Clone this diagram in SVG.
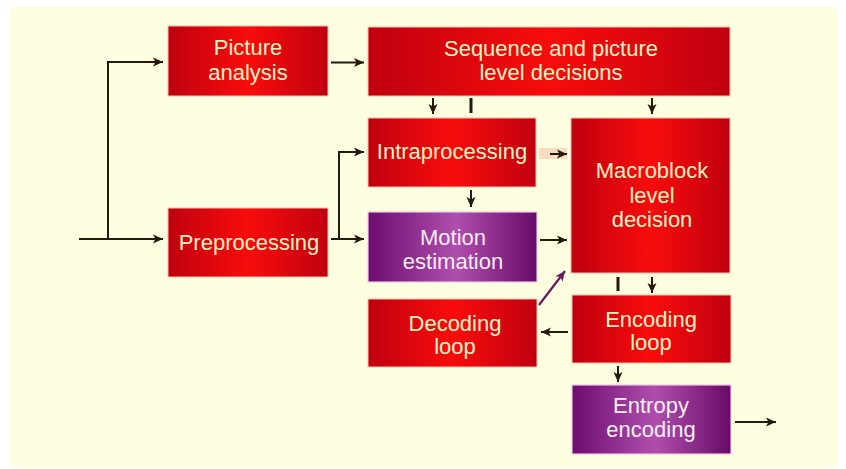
<svg xmlns="http://www.w3.org/2000/svg" width="846" height="469" viewBox="0 0 846 469">
  <defs>
    <linearGradient id="redFill" x1="0" y1="0" x2="1" y2="0">
      <stop offset="0" stop-color="#bf000f"/>
      <stop offset="0.5" stop-color="#f80c0c"/>
      <stop offset="1" stop-color="#c0000f"/>
    </linearGradient>
    <linearGradient id="purpleFill" x1="0" y1="0" x2="1" y2="0">
      <stop offset="0" stop-color="#6c0c6e"/>
      <stop offset="0.52" stop-color="#b04eae"/>
      <stop offset="1" stop-color="#680a68"/>
    </linearGradient>
    <marker id="head" markerUnits="userSpaceOnUse" markerWidth="12" markerHeight="12" viewBox="0 0 12 12" refX="11" refY="6" orient="auto">
      <path d="M1 1.5 L11 6 L1 10.5 L3.5 6 Z" fill="#24180f"/>
    </marker>
    <marker id="headPurple" markerUnits="userSpaceOnUse" markerWidth="12" markerHeight="12" viewBox="0 0 12 12" refX="11" refY="6" orient="auto">
      <path d="M1 1.5 L11 6 L1 10.5 L3.5 6 Z" fill="#6a1860"/>
    </marker>
  </defs>
  <style>
    .red rect { fill: url(#redFill); stroke: #f4c4b0; stroke-width: 1; }
    .purple rect { fill: url(#purpleFill); stroke: #ecc8e4; stroke-width: 1.2; }
    .lbl { font-family: "Liberation Sans", Arial, sans-serif; font-size: 22px; text-anchor: middle; stroke: none; }
    .red text { fill: #fdf2c4; }
    .purple text { fill: #faeef6; }
    .wire { fill: none; stroke: #24180f; stroke-width: 2; }
    .arrow { marker-end: url(#head); }
    .bar { fill: none; stroke: #24180f; stroke-width: 3; }
  </style>

  <!-- page -->
  <rect x="0" y="0" width="846" height="469" fill="#ffffff"/>
  <rect x="10" y="7" width="828" height="460" fill="#fdfddf"/>

  <!-- connectors -->
  <g id="connectors">
    <path class="wire arrow" d="M79 239 H163"/>
    <path class="wire arrow" d="M108 239 V62 H163"/>
    <path class="wire arrow" d="M331 62.5 H364"/>
    <path class="wire arrow" d="M433 98 V114"/>
    <path class="bar" d="M471 98 V113"/>
    <path class="wire arrow" d="M652 98 V114"/>
    <path class="wire arrow" d="M331 239 H364"/>
    <path class="wire arrow" d="M339 239 V152 H364"/>
    <path class="wire arrow" d="M471 190 V207"/>
    <rect x="539" y="148" width="28" height="11" fill="#f8dcc0"/>
    <path class="wire arrow" d="M550 154 H567"/>
    <path class="wire arrow" d="M540 240 H567"/>
    <path d="M539 305 L565 271" fill="none" stroke="#6a1860" stroke-width="2.2" marker-end="url(#headPurple)"/>
    <path class="bar" d="M618 277 V291"/>
    <path class="wire arrow" d="M652 277 V293"/>
    <path class="wire arrow" d="M568 332 H541"/>
    <path class="wire arrow" d="M618 366 V382"/>
    <path class="wire arrow" d="M735 422 H776"/>
  </g>

  <g id="picture-analysis" class="red">
    <rect x="168" y="26" width="160" height="70"/>
    <text class="lbl" x="248" y="55">Picture</text>
    <text class="lbl" x="248" y="80">analysis</text>
  </g>

  <g id="sequence-decisions" class="red">
    <rect x="368" y="27" width="362" height="69"/>
    <text class="lbl" x="551" y="56">Sequence and picture</text>
    <text class="lbl" x="551" y="80">level decisions</text>
  </g>

  <g id="intraprocessing" class="red">
    <rect x="368" y="118" width="168" height="69"/>
    <text class="lbl" x="452" y="159">Intraprocessing</text>
  </g>

  <g id="macroblock-decision" class="red">
    <rect x="571" y="118" width="159" height="155"/>
    <text class="lbl" x="652" y="178">Macroblock</text>
    <text class="lbl" x="652" y="203">level</text>
    <text class="lbl" x="652" y="227">decision</text>
  </g>

  <g id="preprocessing" class="red">
    <rect x="168" y="208" width="160" height="69"/>
    <text class="lbl" x="249" y="250">Preprocessing</text>
  </g>

  <g id="motion-estimation" class="purple">
    <rect x="368" y="212" width="169" height="70"/>
    <text class="lbl" x="453" y="245">Motion</text>
    <text class="lbl" x="453" y="269">estimation</text>
  </g>

  <g id="decoding-loop" class="red">
    <rect x="368" y="299" width="169" height="68"/>
    <text class="lbl" x="455" y="331">Decoding</text>
    <text class="lbl" x="455" y="354">loop</text>
  </g>

  <g id="encoding-loop" class="red">
    <rect x="572" y="295" width="159" height="68"/>
    <text class="lbl" x="651" y="327">Encoding</text>
    <text class="lbl" x="651" y="350">loop</text>
  </g>

  <g id="entropy-encoding" class="purple">
    <rect x="572" y="385" width="159" height="69"/>
    <text class="lbl" x="651" y="413">Entropy</text>
    <text class="lbl" x="651" y="437">encoding</text>
  </g>
</svg>
